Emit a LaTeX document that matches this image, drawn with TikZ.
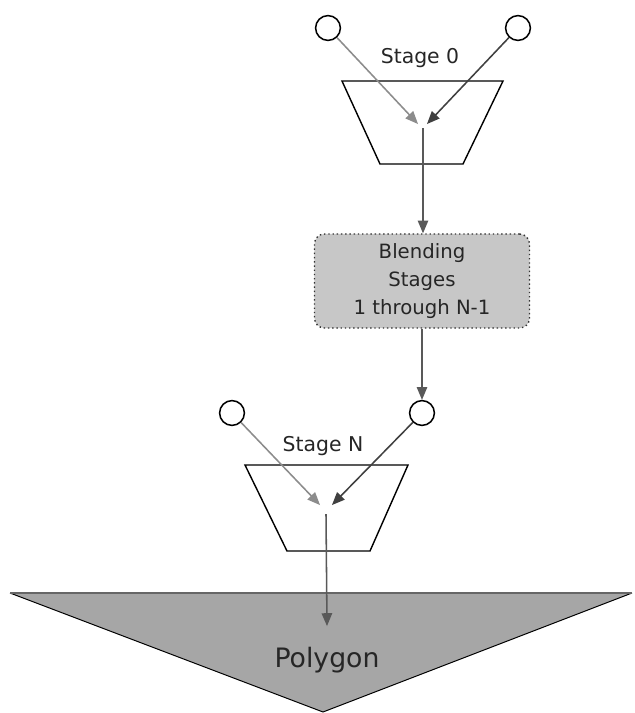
\documentclass[tikz,border=0pt]{standalone}
\usepackage{fontspec}
\setmainfont{DejaVu Sans}
\usetikzlibrary{arrows}
\usetikzlibrary{positioning, calc}

\begin{document}
\begin{tikzpicture}[x=0.025cm, y=-0.025cm,
    src/.style={circle, draw=black, fill=white, line width=1.1pt, inner sep=0pt, minimum size=0.62cm},
    lbl/.style={inner sep=0pt, text=black!85, font=\fontsize{14.5}{17}\selectfont},
    lite/.style={draw=black!45, line width=1.1pt, -triangle 45},
    dark/.style={draw=black!75, line width=1.1pt, -triangle 45},
    flow/.style={draw=black!65, line width=1.1pt, -triangle 45},
    stagebox/.style={draw=black, line width=1pt}]
      \useasboundingbox (0, 0) rectangle (634, 713);

      % stage 0
      \node[src] (a0) at (328, 28) {};
      \node[src] (b0) at (518, 28) {};
      \node[lbl] (s0) at (420, 58) {Stage 0};
      \draw[stagebox] (342, 81) -- (503, 81) -- (463, 164) -- (380, 164) -- cycle;
      \coordinate (a0end) at (418, 124);
      \coordinate (b0end) at (427, 124);
      \coordinate (out0) at (423, 128);
      \draw[lite] (a0) -- (a0end);
      \draw[dark] (b0) -- (b0end);

      % blending stages
      \node[draw=black!80, fill=black!22, dotted, line width=1pt, rounded corners=0.25cm,
            minimum width=5.375cm, minimum height=2.35cm, align=center, text=black!85,
            font=\fontsize{14}{20}\selectfont] (blend) at (422, 281)
            {Blending\\Stages\\1 through N-1};
      \draw[flow] (out0) -- (blend.north -| out0);

      % stage N
      \node[src] (aN) at (232, 413) {};
      \node[src] (bN) at (422, 413) {};
      \node[lbl] (sN) at (323, 446) {Stage N};
      \draw[stagebox] (245, 465) -- (408, 465) -- (370, 551) -- (287, 551) -- cycle;
      \coordinate (aNend) at (320, 505);
      \coordinate (bNend) at (332, 505);
      \coordinate (outN) at (326, 514);
      \draw[flow] (blend.south -| bN) -- (bN);
      \draw[lite] (aN) -- (aNend);
      \draw[dark] (bN) -- (bNend);

      % polygon
      \fill[black!35] (10, 593) -- (632, 593) -- (323, 712) -- cycle;
      \draw[black, line width=0.7pt] (10, 593) -- (323, 712) -- (632, 593);
      \draw[black!60, line width=2pt] (10, 593) -- (632, 593);
      \node[inner sep=0pt, text=black!85, font=\fontsize{19}{22}\selectfont] (poly) at (327, 660) {Polygon};
      \coordinate (polytop) at (327, 626);
      \draw[flow] (outN) -- (polytop);

    \end{tikzpicture}
\end{document}
